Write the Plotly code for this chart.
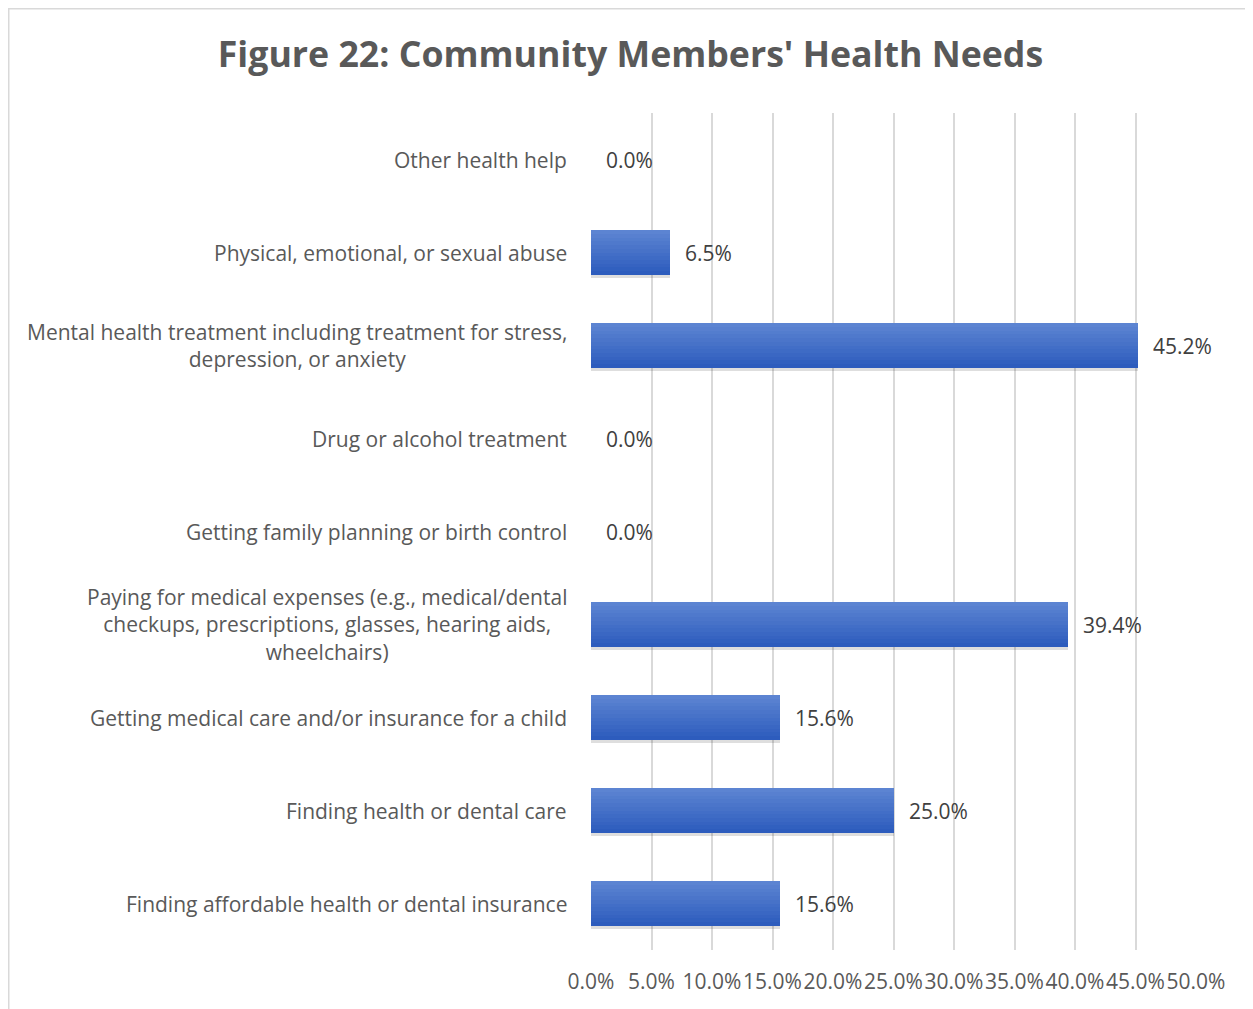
import plotly.graph_objects as go

categories = [
    "Finding affordable health or dental insurance",
    "Finding health or dental care",
    "Getting medical care and/or insurance for a child",
    "Paying for medical expenses (e.g., medical/dental<br>checkups, prescriptions, glasses, hearing aids,<br>wheelchairs)",
    "Getting family planning or birth control",
    "Drug or alcohol treatment",
    "Mental health treatment including treatment for stress,<br>depression, or anxiety",
    "Physical, emotional, or sexual abuse",
    "Other health help",
]
values = [15.6, 25.0, 15.6, 39.4, 0.0, 0.0, 45.2, 6.5, 0.0]
tick_vals = [0, 5, 10, 15, 20, 25, 30, 35, 40, 45, 50]
tick_text = ["0.0%", "5.0%", "10.0%", "15.0%", "20.0%", "25.0%", "30.0%", "35.0%", "40.0%", "45.0%", "50.0%"]

FONT = "Open Sans"
W = 0.48
N = 12
dark = (0x2d, 0x5c, 0xbd)
light = (0x5c, 0x84, 0xd2)

fig = go.Figure()

# shadow
fig.add_trace(go.Bar(y=categories, x=values, orientation="h", width=W, offset=-W / 2 - 0.035,
                     marker=dict(color="rgba(0,0,0,0.13)", line=dict(width=0)),
                     hoverinfo="skip", showlegend=False))

# gradient slices
for i in range(N):
    t = i / (N - 1)
    c = tuple(int(round(dark[k] + (light[k] - dark[k]) * t)) for k in range(3))
    fig.add_trace(go.Bar(y=categories, x=values, orientation="h",
                         width=W / N + 0.002, offset=-W / 2 + i * W / N,
                         marker=dict(color="rgb(%d,%d,%d)" % c, line=dict(width=0)),
                         hoverinfo="skip", showlegend=False))

# data labels
for cat, v in zip(categories, values):
    fig.add_annotation(x=v, y=cat, xref="x", yref="y", text="%.1f%%" % v,
                       showarrow=False, xanchor="left", xshift=13,
                       font=dict(family=FONT, size=21, color="#404040"))

# category labels
for cat in categories:
    fig.add_annotation(x=0, y=cat, xref="x", yref="y", text=cat, showarrow=False,
                       xanchor="right", align="center", xshift=-22,
                       font=dict(family=FONT, size=21, color="#595959"))

# chart border
fig.add_shape(type="rect", xref="paper", yref="paper", x0=(0.75 - 583) / 605, x1=2.0,
              y0=-1.0, y1=(942 - 0.75) / 837, line=dict(color="#d9d9d9", width=1.5),
              fillcolor="rgba(0,0,0,0)", layer="below")

fig.update_layout(
    width=1245, height=1001,
    margin=dict(l=583, r=57, t=105, b=59, autoexpand=False),
    paper_bgcolor="white", plot_bgcolor="white",
    barmode="overlay", bargap=0,
    showlegend=False,
    title=dict(text="<b>Figure 22: Community Members' Health Needs</b>",
               x=0.5, xref="container", xanchor="center",
               y=1 - 47 / 1001, yref="container", yanchor="middle",
               font=dict(family=FONT, size=35.7, color="#595959")),
    xaxis=dict(range=[0, 50], tickvals=tick_vals, ticktext=tick_text,
               showgrid=True, gridcolor="#d9d9d9", gridwidth=1.5, tickangle=0,
               automargin=False,
               zeroline=False, showline=False, ticks="", ticklabelstandoff=17,
               tickfont=dict(family=FONT, size=21, color="#595959")),
    yaxis=dict(categoryorder="array", categoryarray=categories, automargin=False,
               showticklabels=False, showgrid=False, zeroline=False, showline=False,
               range=[-0.5, len(categories) - 0.5]),
)

fig.write_html("out.html")
